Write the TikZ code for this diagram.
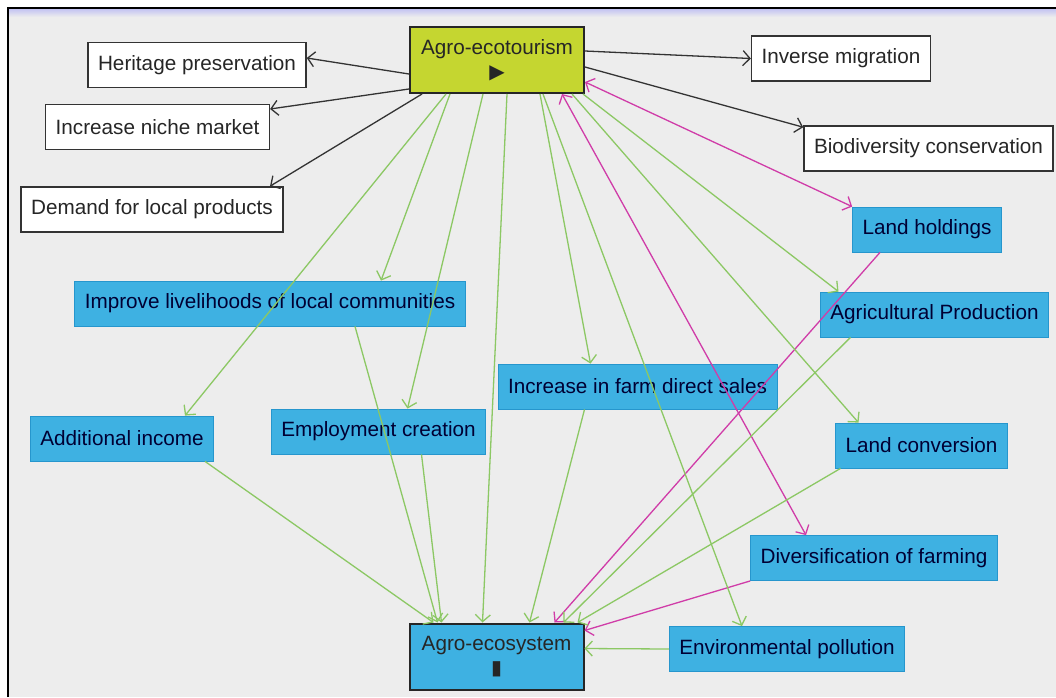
\documentclass[tikz,border=0pt]{standalone}
\usepackage{fontspec}
\setmainfont{Liberation Sans}
\newfontfamily\symfont{DejaVu Sans}
\usetikzlibrary{arrows.meta}
\definecolor{ecoyellow}{RGB}{197,214,48}
\definecolor{ecoblue}{RGB}{62,177,226}
\definecolor{ecoedge}{RGB}{38,150,205}
\definecolor{ecogreen}{RGB}{140,200,100}
\definecolor{ecopink}{RGB}{208,60,168}
\definecolor{ecogrey}{RGB}{237,237,237}
\definecolor{ecoband}{RGB}{196,196,242}

\begin{document}
\begin{tikzpicture}[x=1pt,y=-1pt,
		font=\fontsize{20.7}{24}\selectfont,
		>={Straight Barb[length=7pt,width=15pt]},
		effect/.style={draw=black!80,line width=1.6pt,fill=white,text=black!85,inner xsep=10pt,minimum height=45pt},
		factor/.style={draw=ecoedge,line width=0.8pt,fill=ecoblue,text=black!80!blue,inner xsep=10pt,minimum height=45pt},
		system/.style={draw=black!85,line width=2pt,text=black!85,minimum width=174pt,minimum height=66pt,align=center,inner sep=2pt},
		black arc/.style={->,draw=black!80,line width=1.3pt},
		green arc/.style={->,draw=ecogreen,line width=1.3pt},
		pink arc/.style={draw=ecopink,line width=1.3pt}]
		\def\marker#1{{\symfont\fontsize{20}{20}\selectfont #1}}
		\useasboundingbox (0,0) rectangle (1056,697);
		\fill[white] (0,0) rectangle (1056,697);
		\fill[ecogrey] (8,8) rectangle (1056,697);
		\shade[top color=ecoband,bottom color=ecogrey] (8,9) rectangle (1056,17);
		\draw[line width=1.5pt] (8,697) -- (8,8) -- (1056,8);
		\node[system,fill=ecoyellow] (ae) at (497,60) {Agro-ecotourism\\\marker{▶}};
		\node[system,fill=ecoblue] (as) at (496.5,656.5) {Agro-ecosystem\\\marker{▮}};
		\node[effect] (her) at (197,65) {Heritage preservation};
		\node[effect] (niche) at (157.5,127) {Increase niche market};
		\node[effect] (demand) at (152,209.5) {Demand for local products};
		\node[effect] (inv) at (841,58.5) {Inverse migration};
		\node[effect] (bio) at (928.5,148.5) {Biodiversity conservation};
		\node[factor] (lh) at (927,229.5) {Land holdings};
		\node[factor] (liv) at (270,303.5) {Improve livelihoods of local communities};
		\node[factor] (agp) at (934.5,314.5) {Agricultural Production};
		\node[factor] (fds) at (637.5,386.5) {Increase in farm direct sales};
		\node[factor] (inc) at (122,438.5) {Additional income};
		\node[factor] (emp) at (378.5,431.5) {Employment creation};
		\node[factor] (lc) at (921.5,445.5) {Land conversion};
		\node[factor] (div) at (874,558) {Diversification of farming};
		\node[factor] (env) at (787,649) {Environmental pollution};
		\draw[black arc] ([yshift=-14]ae.west) -- ([yshift=7]her.east);
		\draw[black arc] ([yshift=-29]ae.west) -- ([yshift=18]niche.east);
		\draw[black arc] ([xshift=-75]ae.south) -- ([xshift=118]demand.north);
		\draw[black arc] ([yshift=9]ae.east) -- (inv.west);
		\draw[black arc] ([yshift=-7]ae.east) -- ([yshift=-2]bio.north west);
		\draw[pink arc,<->] ([yshift=-22]ae.east) -- (lh.north west);
		\draw[pink arc,<->] ([xshift=65]ae.south) -- ([xshift=-68]div.north);
		\draw[pink arc,->] ([xshift=-47]lh.south) -- ([xshift=58]as.north);
		\draw[pink arc,->] (div.south west) -- ([yshift=26]as.east);
		\draw[green arc] ([xshift=-51]ae.south) -- ([xshift=63]inc.north);
		\draw[green arc] ([xshift=-47]ae.south) -- ([xshift=111]liv.north);
		\draw[green arc] ([xshift=-14]ae.south) -- ([xshift=29]emp.north);
		\draw[green arc] ([xshift=10]ae.south) -- ([xshift=-14]as.north);
		\draw[green arc] ([xshift=43]ae.south) -- ([xshift=-47]fds.north);
		\draw[green arc] ([xshift=46]ae.south) -- ([xshift=-45]env.north);
		\draw[green arc] ([xshift=75]ae.south) -- ([xshift=-63]lc.north);
		\draw[green arc] ([xshift=-2]ae.south east) -- ([xshift=-96]agp.north);
		\draw[green arc] ([xshift=83]inc.south) -- ([xshift=-63]as.north);
		\draw[green arc] ([xshift=85]liv.south) -- ([xshift=-59]as.north);
		\draw[green arc] ([xshift=43]emp.south) -- ([xshift=-55]as.north);
		\draw[green arc] ([xshift=-53]fds.south) -- ([xshift=33]as.north);
		\draw[green arc] ([xshift=-84]agp.south) -- ([xshift=67]as.north);
		\draw[green arc] ([xshift=-81]lc.south) -- ([xshift=81]as.north);
		\draw[green arc] (env.west) -- ([yshift=8]as.east);
	\end{tikzpicture}
\end{document}
